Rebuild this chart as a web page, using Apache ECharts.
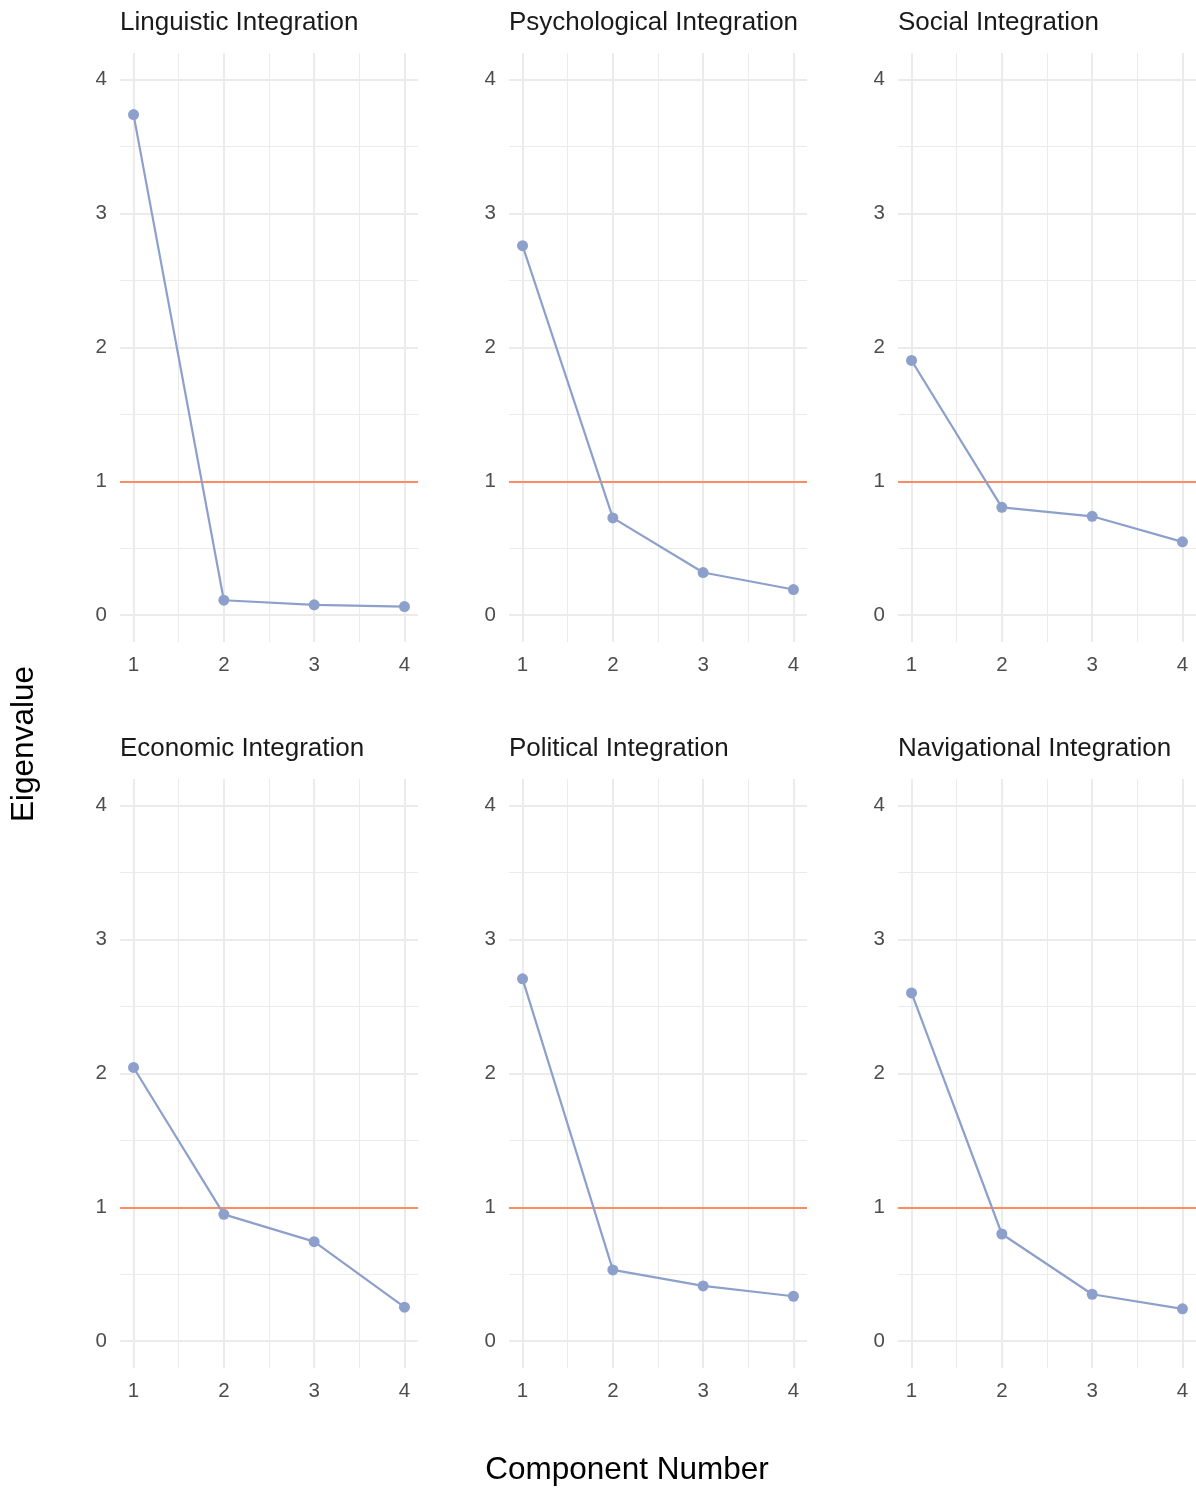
<!DOCTYPE html>
<html>
<head>
<meta charset="utf-8">
<script src="https://cdn.jsdelivr.net/npm/echarts@6/dist/echarts.min.js"></script>
<style>
html,body{margin:0;padding:0;background:#fff;}
#chart{width:1196px;height:1490px;}
</style>
</head>
<body>
<div id="chart"></div>
<script>
// ---- Data ----
const PANEL_TITLES = ['Linguistic Integration', 'Psychological Integration', 'Social Integration',
                      'Economic Integration', 'Political Integration', 'Navigational Integration'];
const COMPONENTS = [1, 2, 3, 4];
const LINGUISTIC = [3.74, 0.112, 0.078, 0.065];
const PSYCHOLOGICAL = [2.761, 0.727, 0.319, 0.192];
const SOCIAL = [1.903, 0.806, 0.739, 0.548];
const ECONOMIC = [2.045, 0.948, 0.744, 0.254];
const POLITICAL = [2.707, 0.533, 0.413, 0.336];
const NAVIGATIONAL = [2.602, 0.801, 0.351, 0.242];
const THRESHOLD = 1;
const X_TICKS = [1, 2, 3, 4];
const X_MINOR = [1.5, 2.5, 3.5];
const Y_TICKS = [0, 1, 2, 3, 4];
const Y_MINOR = [0.5, 1.5, 2.5, 3.5];
const AXIS_TITLE_X = 'Component Number';
const AXIS_TITLE_Y = 'Eigenvalue';

const SERIES_VALUES = [LINGUISTIC, PSYCHOLOGICAL, SOCIAL, ECONOMIC, POLITICAL, NAVIGATIONAL];

// ---- Layout ----
const FONT = '"Liberation Sans", Arial, sans-serif';
const COL_LEFT = [120, 509, 898];
const ROW_TOP = [53, 779];
const GRID_W = 298, GRID_H = 589;
const GRID_COLOR = '#EBEBEB';
const LINE_COLOR = '#8DA0CB';
const HLINE_COLOR = '#FC8D62';

const grids = [], xAxes = [], yAxes = [], series = [], titles = [];

PANEL_TITLES.forEach((name, i) => {
  const r = Math.floor(i / 3), c = i % 3;
  grids.push({left: COL_LEFT[c], top: ROW_TOP[r], width: GRID_W, height: GRID_H, containLabel: false});
  xAxes.push({
    gridIndex: i, type: 'value', min: 0.85, max: 4.15,
    axisLine: {show: false}, axisTick: {show: false, customValues: X_TICKS},
    splitLine: {show: false},
    axisLabel: {customValues: X_TICKS, color: '#4D4D4D', fontSize: 20.5, fontFamily: FONT, margin: 13}
  });
  yAxes.push({
    gridIndex: i, type: 'value', min: -0.2, max: 4.2,
    axisLine: {show: false}, axisTick: {show: false, customValues: Y_TICKS},
    splitLine: {show: false},
    axisLabel: {customValues: Y_TICKS, color: '#4D4D4D', fontSize: 20.5, fontFamily: FONT, margin: 13}
  });
  titles.push({
    text: name, left: COL_LEFT[c], top: ROW_TOP[r] - 43, padding: 0,
    textStyle: {fontSize: 26, fontWeight: 'normal', color: '#1A1A1A', fontFamily: FONT}
  });

  const gridData = [];
  X_MINOR.forEach(v => gridData.push({xAxis: v, lineStyle: {width: 1, color: GRID_COLOR, type: 'solid'}}));
  Y_MINOR.forEach(v => gridData.push({yAxis: v, lineStyle: {width: 1, color: GRID_COLOR, type: 'solid'}}));
  X_TICKS.forEach(v => gridData.push({xAxis: v, lineStyle: {width: 2, color: GRID_COLOR, type: 'solid'}}));
  Y_TICKS.forEach(v => gridData.push({yAxis: v, lineStyle: {width: 2, color: GRID_COLOR, type: 'solid'}}));

  // background gridlines
  series.push({
    type: 'line', xAxisIndex: i, yAxisIndex: i, data: [], z: 1, silent: true,
    markLine: {z: 1, symbol: ['none', 'none'], silent: true, animation: false, label: {show: false}, data: gridData}
  });
  // threshold line
  series.push({
    type: 'line', xAxisIndex: i, yAxisIndex: i, data: [], z: 2, silent: true,
    markLine: {z: 2, symbol: ['none', 'none'], silent: true, animation: false, label: {show: false},
      data: [{yAxis: THRESHOLD, lineStyle: {width: 2.2, color: HLINE_COLOR, type: 'solid'}}]}
  });
  // scree line
  series.push({
    type: 'line', xAxisIndex: i, yAxisIndex: i, z: 3,
    data: COMPONENTS.map((x, k) => [x, SERIES_VALUES[i][k]]),
    symbol: 'circle', symbolSize: 11, showSymbol: true,
    lineStyle: {color: LINE_COLOR, width: 2.2},
    itemStyle: {color: LINE_COLOR, borderWidth: 0},
    animation: false
  });
});

const chart = echarts.init(document.getElementById('chart'), null, {renderer: 'canvas'});
chart.setOption({
  backgroundColor: '#ffffff',
  animation: false,
  title: titles,
  grid: grids,
  xAxis: xAxes,
  yAxis: yAxes,
  series: series,
  graphic: [
    {type: 'text', x: 627, y: 1470, style: {text: AXIS_TITLE_X, fontSize: 31.5, fontFamily: FONT, fill: '#000',
      textAlign: 'center', textVerticalAlign: 'middle'}},
    {type: 'text', x: 24, y: 744, rotation: Math.PI / 2, style: {text: AXIS_TITLE_Y, fontSize: 31.5, fontFamily: FONT, fill: '#000',
      textAlign: 'center', textVerticalAlign: 'middle'}}
  ]
});
</script>
</body>
</html>
